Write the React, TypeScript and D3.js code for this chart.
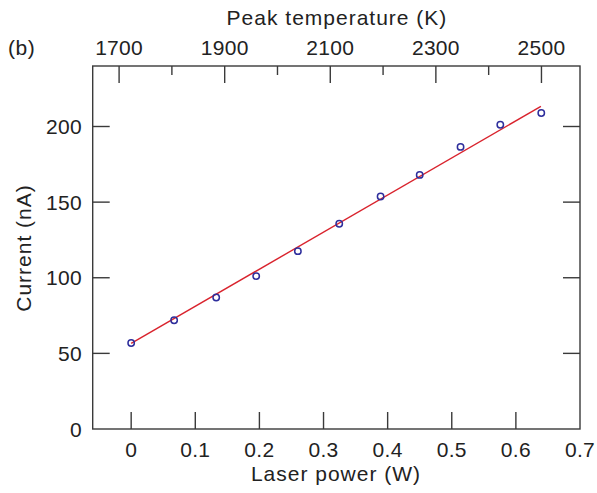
import React from 'react';
import * as d3 from 'd3';

// measured points
const powerW = [0, 0.067, 0.1326, 0.195, 0.26, 0.3245, 0.389, 0.45, 0.5137, 0.5757, 0.6396];
const currentNA = [56.9, 71.9, 86.9, 101.1, 117.6, 135.7, 153.7, 168, 186.5, 201.2, 208.9];

// linear fit drawn as a segment
const fitX = [0, 0.639];
const fitY = [56.6, 213.3];

const powerTicks = [0, 0.1, 0.2, 0.3, 0.4, 0.5, 0.6, 0.7];
const currentTicks = [0, 50, 100, 150, 200];
const tempMajor = [1700, 1900, 2100, 2300, 2500];
const tempMinor = [1800, 2000, 2200, 2400];

const W = 597;
const H = 493;
const left = 92.7;
const right = 580;
const top = 66;
const bottom = 429;

const FONT = '"Liberation Sans", Arial, Helvetica, sans-serif';
const AXIS = '#3a3a3a';
const TXT = '#222';

const App = () => {
    const x = d3.scaleLinear().domain([-0.06, 0.7]).range([left, right]);
    const y = d3.scaleLinear().domain([0, 240]).range([bottom, top]);
    const t = d3.scaleLinear().domain([1650, 2573]).range([left, right]);

    const fitLine = d3.line<number>()
        .x((d, i) => x(fitX[i]))
        .y(d => y(d));

    const major = 17;
    const minor = 9;

    return (
        <svg width={W} height={H} style={{ position: 'absolute', left: 0, top: 0, background: '#fff' }}
            fontFamily={FONT}>
            {/* frame */}
            <rect x={left} y={top} width={right - left} height={bottom - top}
                fill="none" stroke={AXIS} strokeWidth={1.4} />

            {/* bottom axis */}
            {powerTicks.map(v => (
                <g key={'b' + v}>
                    {v < 0.7 && <line x1={x(v)} x2={x(v)} y1={bottom} y2={bottom - major} stroke={AXIS} strokeWidth={1.4} />}
                    <text x={x(v)} y={457} textAnchor="middle" fontSize={21} letterSpacing={0.3} fill={TXT}>{d3.format('~g')(v)}</text>
                </g>
            ))}
            <text x={336} y={481} textAnchor="middle" fontSize={21} letterSpacing={1} fill={TXT}>Laser power (W)</text>

            {/* top axis */}
            {tempMajor.map(v => (
                <g key={'t' + v}>
                    <line x1={t(v)} x2={t(v)} y1={top} y2={top + major} stroke={AXIS} strokeWidth={1.4} />
                    <text x={t(v)} y={55} textAnchor="middle" fontSize={21} letterSpacing={0.3} fill={TXT}>{v}</text>
                </g>
            ))}
            {tempMinor.map(v => (
                <line key={'tm' + v} x1={t(v)} x2={t(v)} y1={top} y2={top + minor} stroke={AXIS} strokeWidth={1.4} />
            ))}
            <text x={337} y={25} textAnchor="middle" fontSize={21} letterSpacing={1} fill={TXT}>Peak temperature (K)</text>

            {/* left + right axes */}
            {currentTicks.map(v => (
                <g key={'l' + v}>
                    {v > 0 && <line x1={left} x2={left + major} y1={y(v)} y2={y(v)} stroke={AXIS} strokeWidth={1.4} />}
                    {v > 0 && <line x1={right} x2={right - major} y1={y(v)} y2={y(v)} stroke={AXIS} strokeWidth={1.4} />}
                    <text x={82} y={y(v)} dy="0.36em" textAnchor="end" fontSize={21} letterSpacing={0.3} fill={TXT}>{v}</text>
                </g>
            ))}
            <text transform={`translate(31, 248) rotate(-90)`} textAnchor="middle" fontSize={21} letterSpacing={1} fill={TXT}>Current (nA)</text>

            <text x={8} y={55} fontSize={21} letterSpacing={0.5} fill={TXT}>(b)</text>

            {/* fit */}
            <path d={fitLine(fitY) || ''} fill="none" stroke="#d9232d" strokeWidth={1.4} />

            {/* data */}
            {powerW.map((p, i) => (
                <circle key={'p' + i} cx={x(p)} cy={y(currentNA[i])} r={3.2}
                    fill="none" stroke="#2e2e9c" strokeWidth={1.5} />
            ))}
        </svg>
    );
};

export default App;
